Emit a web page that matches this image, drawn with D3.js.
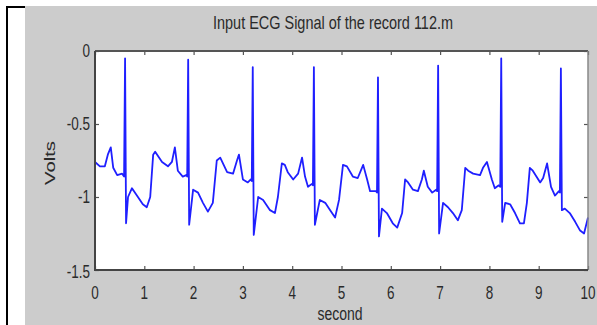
<!doctype html>
<html>
<head>
<meta charset="utf-8" />
<script src="https://d3js.org/d3.v7.min.js"></script>
<style>
  body{ margin:0; background:#fff; }
  text{ font-family: "Liberation Sans", Arial, sans-serif; fill:#2a2a2a; }
</style>
</head>
<body>
<script>
// ECG samples (seconds, volts)
var timeSec = [0.00,0.10,0.20,0.26,0.32,0.37,0.45,0.55,0.59,0.61,0.63,0.67,0.75,0.85,0.97,1.05,1.12,1.18,1.22,1.36,1.48,1.56,1.62,1.68,1.78,1.85,1.87,1.89,1.91,1.99,2.09,2.19,2.29,2.39,2.47,2.54,2.68,2.80,2.88,2.92,3.00,3.10,3.16,3.18,3.20,3.22,3.31,3.41,3.55,3.65,3.71,3.79,3.85,3.91,4.02,4.12,4.20,4.26,4.32,4.40,4.42,4.44,4.46,4.56,4.67,4.77,4.87,4.95,5.03,5.11,5.23,5.33,5.44,5.52,5.58,5.70,5.72,5.74,5.76,5.82,5.92,6.04,6.13,6.23,6.29,6.35,6.45,6.55,6.63,6.67,6.75,6.84,6.92,6.94,6.96,6.98,7.06,7.16,7.26,7.36,7.44,7.51,7.57,7.67,7.81,7.87,7.95,8.05,8.11,8.19,8.22,8.24,8.26,8.32,8.42,8.52,8.62,8.70,8.76,8.82,8.88,9.03,9.09,9.17,9.25,9.33,9.41,9.43,9.45,9.47,9.53,9.63,9.74,9.84,9.92,10.00];
var volts = [-0.76,-0.79,-0.79,-0.71,-0.66,-0.80,-0.85,-0.84,-0.86,-0.05,-1.18,-1.00,-0.94,-0.99,-1.05,-1.07,-1.00,-0.71,-0.69,-0.76,-0.79,-0.76,-0.66,-0.82,-0.86,-0.85,-0.86,-0.06,-1.19,-0.95,-0.97,-1.04,-1.10,-1.04,-0.75,-0.73,-0.83,-0.84,-0.75,-0.71,-0.88,-0.90,-0.88,-0.89,-0.11,-1.26,-1.00,-1.02,-1.09,-1.11,-1.00,-0.77,-0.78,-0.83,-0.88,-0.84,-0.73,-0.86,-0.93,-0.91,-0.92,-0.11,-1.19,-1.02,-1.04,-1.09,-1.14,-1.02,-0.78,-0.79,-0.86,-0.87,-0.78,-0.88,-0.96,-0.96,-0.97,-0.18,-1.27,-1.08,-1.11,-1.18,-1.21,-1.11,-0.88,-0.90,-0.95,-0.96,-0.88,-0.82,-0.93,-0.97,-0.95,-0.96,-0.10,-1.25,-1.04,-1.07,-1.11,-1.16,-1.09,-0.80,-0.82,-0.84,-0.85,-0.80,-0.76,-0.88,-0.94,-0.92,-0.93,-0.05,-1.17,-1.04,-1.05,-1.11,-1.18,-1.18,-1.04,-0.80,-0.82,-0.90,-0.87,-0.77,-0.93,-0.99,-0.96,-0.97,-0.12,-1.09,-1.08,-1.11,-1.17,-1.23,-1.25,-1.14];

var xTicks = [0,1,2,3,4,5,6,7,8,9,10];
var yTicks = [0,-0.5,-1,-1.5];
var yTickLabels = ["0","-0.5","-1","-1.5"];
var titleText = "Input ECG Signal of the record 112.m";

var W = 597, H = 325;
var svg = d3.select("body").append("svg").attr("width", W).attr("height", H);

// page frame
svg.append("rect").attr("x", 25).attr("y", 6).attr("width", W - 25).attr("height", H - 6).attr("fill", "#cccccc");
svg.append("path").attr("d", "M7,325V7H25").attr("fill", "none").attr("stroke", "#000").attr("stroke-width", 2);

var x = d3.scaleLinear().domain([0, 10]).range([95, 588]);
var y = d3.scaleLinear().domain([-1.5, 0]).range([270, 51]);

svg.append("rect").attr("x", 95).attr("y", 51).attr("width", 493).attr("height", 219).attr("fill", "#fff");

// stretched text helper (the picture is squeezed sideways)
function label(px, py, str, size, anchor, rot){
  var t = svg.append("text")
    .attr("transform", "translate(" + px + "," + py + ") scale(1,1.35)" + (rot ? " rotate(" + rot + ")" : ""))
    .attr("text-anchor", anchor)
    .style("font-size", size + "px")
    .text(str);
  return t;
}

// axes
var gx = svg.append("g").attr("transform", "translate(0,270)")
  .call(d3.axisBottom(x).tickValues(xTicks).tickSize(-4).tickFormat(""));
var gxt = svg.append("g").attr("transform", "translate(0,51)")
  .call(d3.axisTop(x).tickValues(xTicks).tickSize(-4).tickFormat(""));
var gy = svg.append("g").attr("transform", "translate(95,0)")
  .call(d3.axisLeft(y).tickValues(yTicks).tickSize(-4).tickFormat(""));
var gyr = svg.append("g").attr("transform", "translate(588,0)")
  .call(d3.axisRight(y).tickValues(yTicks).tickSize(-4).tickFormat(""));
[gx, gxt, gy, gyr].forEach(function(g){
  g.select(".domain").remove();
  g.selectAll(".tick line").attr("stroke", "#555").attr("stroke-width", 1.2);
});

// plot line
var line = d3.line().x(function(d){ return x(d[0]); }).y(function(d){ return y(d[1]); });
svg.append("path")
  .datum(timeSec.map(function(t, i){ return [t, volts[i]]; }))
  .attr("d", line)
  .attr("fill", "none")
  .attr("stroke", "#1f1fff")
  .attr("stroke-width", 1.8)
  .attr("stroke-linejoin", "round");

// box
svg.append("path").attr("d", "M95,51H588").attr("stroke", "#555").attr("stroke-width", 2);
svg.append("path").attr("d", "M588,51V270").attr("stroke", "#888").attr("stroke-width", 1.5);
svg.append("path").attr("d", "M95,51V270H588").attr("fill", "none").attr("stroke", "#444").attr("stroke-width", 2);

// tick labels
xTicks.forEach(function(v){ label(x(v), 286, String(v), 13.5, "middle").attr("dy", "0.7em"); });
yTicks.forEach(function(v, i){ label(90, y(v) + (v === -1.5 ? 2 : 0), yTickLabels[i], 13.5, "end").attr("dy", "0.35em"); });

// titles
label(333, 29, titleText, 13, "middle").attr("textLength", 240).attr("lengthAdjust", "spacingAndGlyphs");
label(340, 320, "second", 14, "middle");
label(55, 163, "Volts", 15, "middle", -90);
</script>
</body>
</html>
